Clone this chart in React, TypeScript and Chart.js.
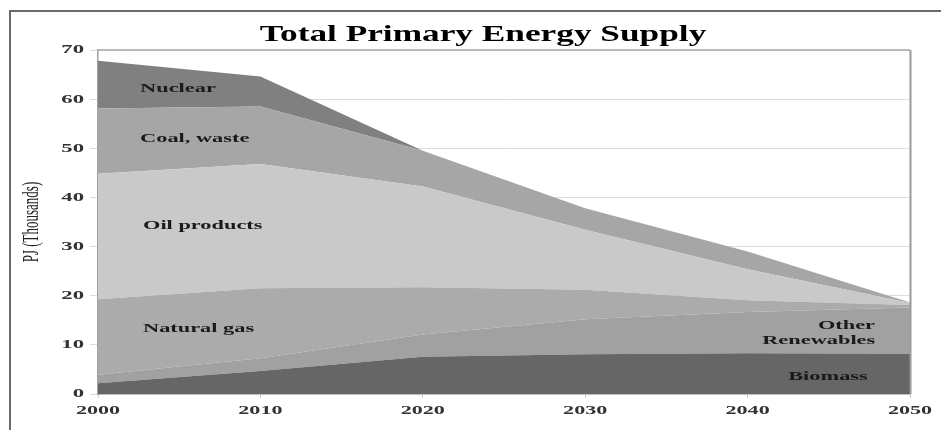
import React, { useEffect, useRef } from "react";
import { Chart, registerables } from "chart.js";

Chart.register(...registerables);

const years = ["2000", "2010", "2020", "2030", "2040", "2050"];
const biomass = [2.2, 4.7, 7.6, 8.1, 8.3, 8.2];
const otherRenewables = [1.7, 2.6, 4.5, 7.1, 8.4, 9.4];
const naturalGas = [15.4, 14.2, 9.6, 6.0, 2.4, 0.5];
const oilProducts = [25.5, 25.3, 20.5, 12.2, 6.3, 0.4];
const coalWaste = [13.3, 11.7, 7.3, 4.4, 3.6, 0.1];
const nuclear = [9.7, 6.1, 0, 0, 0, 0];
const yTicks = [0, 10, 20, 30, 40, 50, 60, 70];

const TITLE = "Total Primary Energy Supply";
const Y_TITLE = "PJ (Thousands)";

const SERIF = '"Liberation Serif", "Times New Roman", serif';

// label placement in data units (x = category index, y = value)
const labelSpecs = [
  { text: "Nuclear", x: 0.259, y: 62.1 },
  { text: "Coal, waste", x: 0.259, y: 51.9 },
  { text: "Oil products", x: 0.277, y: 34.2 },
  { text: "Natural gas", x: 0.277, y: 13.4 },
  { text: "Other", x: 4.433, y: 14.0 },
  { text: "Renewables", x: 4.09, y: 10.8 },
  { text: "Biomass", x: 4.25, y: 3.46 },
];

function stretchText(
  ctx: CanvasRenderingContext2D,
  text: string,
  x: number,
  y: number,
  sx: number,
  align: "left" | "center" | "right"
) {
  ctx.save();
  ctx.translate(x, y);
  ctx.scale(sx, 1);
  ctx.textAlign = align;
  ctx.textBaseline = "middle";
  ctx.fillText(text, 0, 0);
  ctx.restore();
}

const textPlugin = {
  id: "textPlugin",
  afterDraw(chart: any) {
    const ctx: CanvasRenderingContext2D = chart.ctx;
    const { chartArea } = chart;
    const xs = chart.scales.x;
    const ys = chart.scales.y;

    // plot border (top & right)
    ctx.save();
    ctx.strokeStyle = "#a8a8a8";
    ctx.lineWidth = 1.5;
    ctx.beginPath();
    ctx.moveTo(chartArea.left, chartArea.top);
    ctx.lineTo(chartArea.right, chartArea.top);
    ctx.stroke();
    ctx.lineWidth = 2;
    ctx.strokeStyle = "#9a9a9a";
    ctx.beginPath();
    ctx.moveTo(chartArea.right + 0.5, chartArea.top);
    ctx.lineTo(chartArea.right + 0.5, chartArea.bottom);
    ctx.stroke();
    ctx.restore();

    // title
    ctx.save();
    ctx.fillStyle = "#000";
    ctx.font = `bold 24px ${SERIF}`;
    stretchText(ctx, TITLE, 483, 35, 1.47, "center");
    ctx.restore();

    // y axis title
    ctx.save();
    ctx.fillStyle = "#222";
    ctx.font = `13px ${SERIF}`;
    ctx.translate(32, 222);
    ctx.scale(1.75, 1);
    ctx.rotate(-Math.PI / 2);
    ctx.textAlign = "center";
    ctx.textBaseline = "middle";
    ctx.fillText(Y_TITLE, 0, 0);
    ctx.restore();

    // tick labels
    ctx.save();
    ctx.fillStyle = "#333";
    ctx.font = `bold 13px ${SERIF}`;
    ys.ticks.forEach((t: any, i: number) => {
      const py = ys.getPixelForTick(i);
      stretchText(ctx, String(t.value), chartArea.left - 14, py, 1.75, "right");
    });
    xs.ticks.forEach((t: any, i: number) => {
      const px = xs.getPixelForTick(i);
      stretchText(ctx, String(xs.getLabelForValue(t.value)), px, chartArea.bottom + 17, 1.7, "center");
    });
    ctx.restore();

    // series labels
    ctx.save();
    ctx.fillStyle = "#1a1a1a";
    ctx.font = `bold 13px ${SERIF}`;
    labelSpecs.forEach((l) => {
      stretchText(ctx, l.text, xs.getPixelForValue(l.x), ys.getPixelForValue(l.y), 1.72, "left");
    });
    ctx.restore();
  },
};

export default function App() {
  const ref = useRef<HTMLCanvasElement | null>(null);

  useEffect(() => {
    if (!ref.current) return;
    const mk = (label: string, data: number[], color: string, fill: any) => ({
      label,
      data,
      backgroundColor: color,
      borderColor: color,
      borderWidth: 0,
      pointRadius: 0,
      tension: 0,
      fill,
    });
    const chart = new Chart(ref.current, {
      type: "line",
      data: {
        labels: years,
        datasets: [
          mk("Biomass", biomass, "#666666", "origin"),
          mk("Other Renewables", otherRenewables, "#a1a1a1", "-1"),
          mk("Natural gas", naturalGas, "#ababab", "-1"),
          mk("Oil products", oilProducts, "#c9c9c9", "-1"),
          mk("Coal, waste", coalWaste, "#a6a6a6", "-1"),
          mk("Nuclear", nuclear, "#808080", "-1"),
        ],
      },
      options: {
        animation: false,
        responsive: false,
        devicePixelRatio: 1,
        layout: { padding: { left: 0, top: 50, right: 31, bottom: 0 } },
        plugins: {
          legend: { display: false },
          title: { display: false },
          tooltip: { enabled: false },
          filler: { propagate: false },
        },
        elements: { line: { borderWidth: 0 } },
        scales: {
          x: {
            type: "category",
            offset: false,
            grid: {
              drawOnChartArea: false,
              drawTicks: true,
              tickLength: 4,
              color: "#c8c8c8",
            },
            border: { display: true, color: "#a0a0a0", width: 1.5 },
            ticks: { display: false },
            afterFit: (s: any) => {
              s.height = 36;
            },
          },
          y: {
            stacked: true,
            min: 0,
            max: 70,
            afterBuildTicks: (s: any) => {
              s.ticks = yTicks.map((v) => ({ value: v }));
            },
            grid: {
              color: "#dcdcdc",
              drawTicks: true,
              tickLength: 8,
            },
            border: { display: true, color: "#a0a0a0", width: 1.5 },
            ticks: { display: false },
            afterFit: (s: any) => {
              s.width = 98;
            },
          },
        },
      },
      plugins: [textPlugin],
    } as any);
    return () => chart.destroy();
  }, []);

  return (
    <div
      style={{
        position: "fixed",
        left: 0,
        top: 0,
        width: 941,
        height: 430,
        background: "#fff",
        overflow: "hidden",
      }}
    >
      <div
        style={{
          position: "absolute",
          left: 9,
          top: 10,
          width: 1000,
          height: 500,
          borderLeft: "2px solid #6a6a6a",
          borderTop: "2px solid #6a6a6a",
        }}
      />
      <canvas
        ref={ref}
        width={941}
        height={430}
        style={{ position: "absolute", left: 0, top: 0, width: 941, height: 430 }}
      />
    </div>
  );
}
